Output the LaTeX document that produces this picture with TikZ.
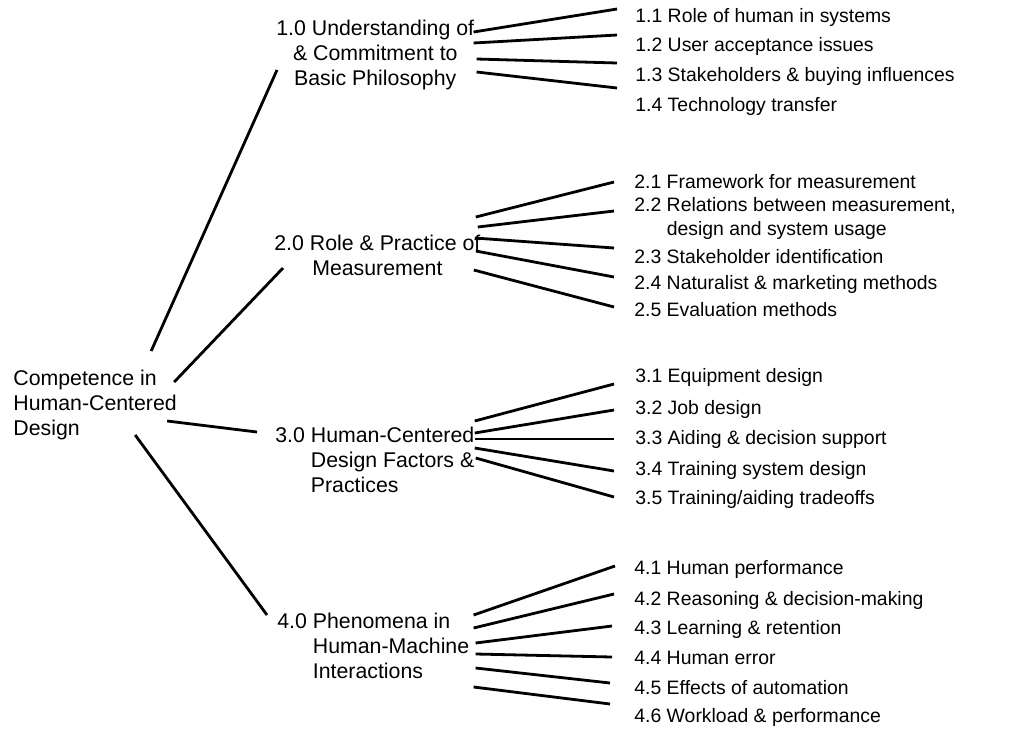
\documentclass[tikz,border=0pt]{standalone}
\usepackage{fontspec}
\setmainfont{Liberation Sans}
\begin{document}
\begin{tikzpicture}[x=0.5pt, y=-0.5pt,
    topic/.style={anchor=west, inner sep=0pt, font=\fontsize{10.65}{12.5}\selectfont},
    item/.style={anchor=west, inner sep=0pt, font=\fontsize{9.7}{12}\selectfont},
    link/.style={line width=1.4pt}]

    % Page frame
    \useasboundingbox (0,0) rectangle (1017,729);

    % Root
    \node[topic, align=left] (root) at (13,405) {Competence in\\Human-Centered\\Design};

    % Main areas
    \node[topic, align=center] (c10) at (276,55) {1.0 Understanding of\\\& Commitment to\\Basic Philosophy};
    \node[topic, align=center] (c20) at (274,255.5) {2.0 Role \& Practice of\\Measurement};
    \node[topic] (c30) at (275,462) {\begin{tabular}{@{}l@{ }l@{}}3.0 & Human-Centered\\ & Design Factors \&\\ & Practices\end{tabular}};
    \node[topic] (c40) at (277,648) {\begin{tabular}{@{}l@{ }l@{}}4.0 & Phenomena in\\ & Human-Machine\\ & Interactions\end{tabular}};

    % Sub-items
    \foreach \n/\y/\t in {c11/17/{1.1 Role of human in systems}, c12/46/{1.2 User acceptance issues},
        c13/76/{1.3 Stakeholders \& buying influences}, c14/106/{1.4 Technology transfer}}
        \node[item] (\n) at (635,\y) {\t};
    \foreach \n/\y/\t in {c21/182/{2.1 Framework for measurement}, c23/257/{2.3 Stakeholder identification},
        c24/284/{2.4 Naturalist \& marketing methods}, c25/310/{2.5 Evaluation methods}}
        \node[item] (\n) at (634,\y) {\t};
    \node[item] (c22) at (634,219) {\begin{tabular}{@{}l@{ }l@{}}2.2 & Relations between measurement,\\ & design and system usage\end{tabular}};
    \foreach \n/\y/\t in {c31/377/{3.1 Equipment design}, c32/409/{3.2 Job design},
        c33/439/{3.3 Aiding \& decision support}, c34/470/{3.4 Training system design},
        c35/499/{3.5 Training/aiding tradeoffs}}
        \node[item] (\n) at (635,\y) {\t};
    \foreach \n/\y/\t in {c41/569/{4.1 Human performance}, c42/600/{4.2 Reasoning \& decision-making},
        c43/629/{4.3 Learning \& retention}, c44/658/{4.4 Human error},
        c45/688/{4.5 Effects of automation}, c46/717/{4.6 Workload \& performance}}
        \node[item] (\n) at (634,\y) {\t};

    % Root to main areas
    \draw[link] ([shift={(-26,-54)}]root.east) -- ([shift={(1,15)}]c10.west);
    \draw[link] ([shift={(-3,-23)}]root.east) -- ([shift={(9,12.5)}]c20.west);
    \draw[link] ([shift={(-10,16)}]root.east) -- ([shift={(-18,-30)}]c30.west);
    \draw[link] ([shift={(-42,30)}]root.east) -- ([shift={(-10,-33)}]c40.west);

    % Main areas to sub-items
    \foreach \n/\dx/\dy/\ey in {c11/-1/-23/-8, c12/-1/-12/-11, c13/2/4/-13, c14/2/17/-18}
        \draw[link] ([shift={(\dx,\dy)}]c10.east) -- ([shift={(-18,\ey)}]\n.west);
    \foreach \n/\dx/\dy/\ey in {c21/-5/-38.5/0, c22/-3/-28.5/-8, c23/-6/-17.5/-9, c24/-5/-4.5/-7, c25/-7/14.5/-3}
        \draw[link] ([shift={(\dx,\dy)}]c20.east) -- ([shift={(-20,\ey)}]\n.west);
    \foreach \n/\dx/\dy/\ey in {c31/0/-41/7, c32/0/-29/1, c33/0/-23/0, c34/0/-14/1, c35/1/-4/-2}
        \draw[link] ([shift={(\dx,\dy)}]c30.east) -- ([shift={(-21,\ey)}]\n.west);
    \foreach \n/\dx/\dy/\ex/\ey in {c41/4/-33/-19/-3, c42/4/-20/-20/-6, c43/6/-5/-22/-3,
        c44/6/6/-22/-1, c45/6/20/-24/-5, c46/4/39/-24/-13}
        \draw[link] ([shift={(\dx,\dy)}]c40.east) -- ([shift={(\ex,\ey)}]\n.west);

\end{tikzpicture}
\end{document}
